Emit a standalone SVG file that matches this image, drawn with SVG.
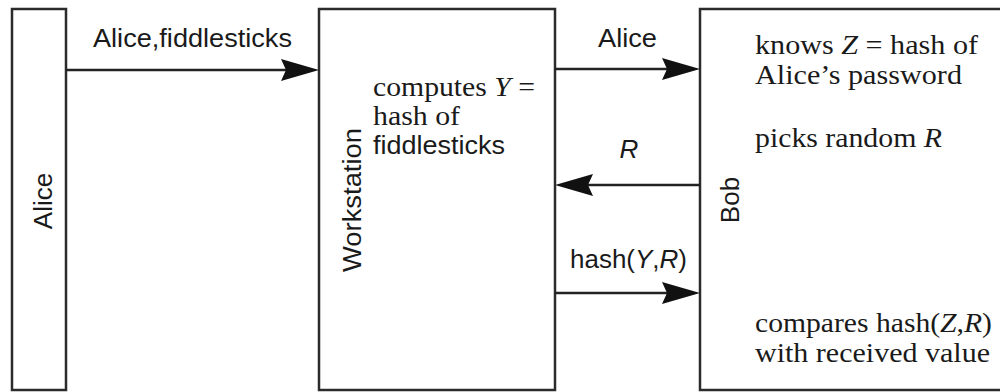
<svg xmlns="http://www.w3.org/2000/svg" width="1000" height="392" viewBox="0 0 1000 392">
  <style>
    .box { fill: #ffffff; stroke: #2b2b2b; stroke-width: 2.5; }
    .wire { fill: none; stroke: #222222; stroke-width: 2.5; }
    .sans { font-family: "Liberation Sans", Arial, sans-serif; font-size: 26px; fill: #1a1a1a; }
    .serif { font-family: "Liberation Serif", "Times New Roman", serif; font-size: 27px; fill: #1a1a1a; }
    .it { font-style: italic; }
  </style>
  <defs>
    <marker id="head" viewBox="0 0 38 22" refX="28" refY="11" markerWidth="38" markerHeight="22" markerUnits="userSpaceOnUse" orient="auto">
      <path d="M0,0 L38,11 L0,22 L5,11 Z" fill="#111111"/>
    </marker>
  </defs>
  <rect width="1000" height="392" fill="#ffffff"/>

  <!-- Alice -->
  <g id="alice">
    <rect class="box" x="12" y="9" width="54" height="381"/>
    <text class="sans" transform="translate(52,201) rotate(-90)" text-anchor="middle">Alice</text>
  </g>

  <!-- Workstation -->
  <g id="workstation">
    <rect class="box" x="319" y="9" width="236" height="381"/>
    <text class="sans" transform="translate(361,200) rotate(-90)" text-anchor="middle" textLength="144" lengthAdjust="spacingAndGlyphs">Workstation</text>
    <text class="serif" x="373" y="96" textLength="162" lengthAdjust="spacingAndGlyphs">computes <tspan class="it">Y</tspan> =</text>
    <text class="serif" x="373" y="125" textLength="87" lengthAdjust="spacingAndGlyphs">hash of</text>
    <text class="sans" x="373" y="154" textLength="132" lengthAdjust="spacingAndGlyphs">fiddlesticks</text>
  </g>

  <!-- Bob -->
  <g id="bob">
    <rect class="box" x="700" y="9" width="320" height="381"/>
    <text class="sans" transform="translate(739,200) rotate(-90)" text-anchor="middle">Bob</text>
    <text class="serif" x="755" y="54" textLength="223" lengthAdjust="spacingAndGlyphs">knows <tspan class="it">Z</tspan> = hash of</text>
    <text class="serif" x="755" y="84" textLength="207" lengthAdjust="spacingAndGlyphs">Alice’s password</text>
    <text class="serif" x="755" y="147" textLength="187" lengthAdjust="spacingAndGlyphs">picks random <tspan class="it">R</tspan></text>
    <text class="serif" x="755" y="332" textLength="237" lengthAdjust="spacingAndGlyphs">compares hash(<tspan class="it">Z</tspan>,<tspan class="it">R</tspan>)</text>
    <text class="serif" x="755" y="362" textLength="235" lengthAdjust="spacingAndGlyphs">with received value</text>
  </g>

  <!-- Messages -->
  <g id="connectors">
    <line class="wire" x1="66" y1="70" x2="309" y2="70" marker-end="url(#head)"/>
    <text class="sans" x="93" y="47" textLength="199" lengthAdjust="spacingAndGlyphs">Alice,fiddlesticks</text>

    <line class="wire" x1="555" y1="69" x2="690" y2="69" marker-end="url(#head)"/>
    <text class="sans" x="598" y="47" textLength="59" lengthAdjust="spacingAndGlyphs">Alice</text>

    <line class="wire" x1="700" y1="185" x2="565" y2="185" marker-end="url(#head)"/>
    <text class="sans it" x="629" y="158" text-anchor="middle">R</text>

    <line class="wire" x1="555" y1="293" x2="690" y2="293" marker-end="url(#head)"/>
    <text class="sans" x="570" y="268" textLength="117" lengthAdjust="spacingAndGlyphs">hash(<tspan class="it">Y</tspan>,<tspan class="it">R</tspan>)</text>
  </g>
</svg>
